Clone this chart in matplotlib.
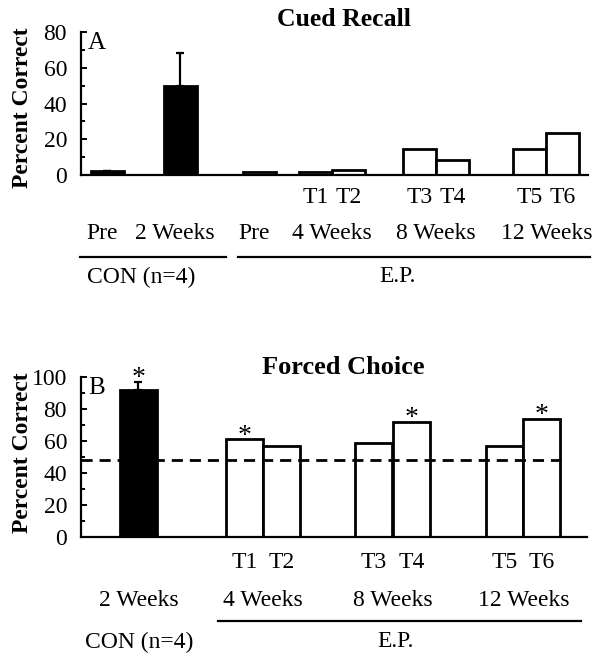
import matplotlib.pyplot as plt
from matplotlib.ticker import MultipleLocator

plt.rcParams['font.family'] = ['Liberation Serif', 'DejaVu Serif']

# Panel A - cued recall
a_values = [2, 50, 1.5, 1.5, 3, 14.5, 8.5, 14.5, 23.5]
a_errors = [0.5, 18, 0, 0, 0, 0, 0, 0, 0]
a_fill = ["black", "black", "white", "white", "white", "white", "white", "white", "white"]
a_pos = [0.8, 3.0, 5.4, 7.1, 8.1, 10.25, 11.25, 13.6, 14.6]
a_tlabels = ["", "", "", "T1", "T2", "T3", "T4", "T5", "T6"]
a_sessions = ["Pre", "2 Weeks", "Pre", "4 Weeks", "8 Weeks", "12 Weeks"]
a_session_pos = [0.65, 2.85, 5.25, 7.6, 10.75, 14.1]

# Panel B - forced choice
b_values = [92, 61, 57, 59, 72, 57, 74]
b_errors = [5, 0, 0, 0, 0, 0, 0]
b_fill = ["black", "white", "white", "white", "white", "white", "white"]
b_stars = [True, True, False, False, True, False, True]
b_pos = [1.55, 4.42, 5.42, 7.92, 8.93, 11.46, 12.46]
b_tlabels = ["", "T1", "T2", "T3", "T4", "T5", "T6"]
b_sessions = ["2 Weeks", "4 Weeks", "8 Weeks", "12 Weeks"]
b_session_pos = [1.55, 4.92, 8.42, 11.96]
chance = 48

fs = 17
bfs = 19

fig = plt.figure(figsize=(6.04, 6.66), dpi=100)
axA = fig.add_axes([81/604, 1-175/666, 507/604, 143/666])
axB = fig.add_axes([81/604, 1-537/666, 506/604, 160/666])


def style_axis(ax, top):
    for s in ["top", "right"]:
        ax.spines[s].set_visible(False)
    for s in ["left", "bottom"]:
        ax.spines[s].set_linewidth(1.6)
    ax.set_ylim(0, top)
    ax.yaxis.set_major_locator(MultipleLocator(20))
    ax.yaxis.set_minor_locator(MultipleLocator(10))
    ax.tick_params(axis="y", which="both", direction="in", width=1.4, pad=10, labelsize=fs)
    ax.tick_params(axis="y", which="major", length=4)
    ax.tick_params(axis="y", which="minor", length=3)
    ax.set_xticks([])


# ---- panel A
axA.bar(a_pos, a_values, width=1.0, color=a_fill, edgecolor="black", linewidth=2, zorder=2)
for x, v, e in zip(a_pos, a_values, a_errors):
    if e > 0:
        axA.errorbar([x], [v], yerr=[[0], [e]], fmt="none", ecolor="black",
                     elinewidth=1.6, capsize=3, capthick=1.6, zorder=1)
axA.set_xlim(0, 15.36)
style_axis(axA, 80)
axA.text(0.2, 80, "A", fontsize=fs + 1, va="top", ha="left")

trA = axA.get_xaxis_transform()
for x, t in zip(a_pos, a_tlabels):
    if t:
        axA.text(x, -0.154, t, transform=trA, ha="center", va="center", fontsize=fs)
for x, t in zip(a_session_pos, a_sessions):
    axA.text(x, -0.406, t, transform=trA, ha="center", va="center", fontsize=fs)
axA.plot([-0.03, 4.39], [-0.573, -0.573], transform=trA, color="black", lw=1.6, clip_on=False)
axA.plot([4.76, 15.42], [-0.573, -0.573], transform=trA, color="black", lw=1.6, clip_on=False)
axA.text(1.82, -0.713, "CON (n=4)", transform=trA, ha="center", va="center", fontsize=fs)
axA.text(9.58, -0.713, "E.P.", transform=trA, ha="center", va="center", fontsize=fs)

# ---- panel B
axB.bar(b_pos, b_values, width=1.0, color=b_fill, edgecolor="black", linewidth=2, zorder=2)
for x, v, e in zip(b_pos, b_values, b_errors):
    if e > 0:
        axB.errorbar([x], [v], yerr=[[0], [e]], fmt="none", ecolor="black",
                     elinewidth=1.6, capsize=3, capthick=1.6, zorder=1)
axB.set_xlim(0, 13.68)
style_axis(axB, 100)
axB.plot([0, 12.97], [chance, chance], color="black", lw=2, dashes=(4, 2.5), zorder=3)
axB.text(0.2, 100, "B", fontsize=fs + 1, va="top", ha="left")
for x, v, e, s in zip(b_pos, b_values, b_errors, b_stars):
    if s:
        axB.annotate("*", (x, v + e), xytext=(0, -2.5), textcoords="offset points",
                     ha="center", va="baseline", fontsize=fs + 3)

trB = axB.get_xaxis_transform()
for x, t in zip(b_pos, b_tlabels):
    if t:
        axB.text(x, -0.1625, t, transform=trB, ha="center", va="center", fontsize=fs)
for x, t in zip(b_session_pos, b_sessions):
    axB.text(x, -0.40, t, transform=trB, ha="center", va="center", fontsize=fs)
axB.plot([3.70, 13.51], [-0.525, -0.525], transform=trB, color="black", lw=1.6, clip_on=False)
axB.text(1.57, -0.656, "CON (n=4)", transform=trB, ha="center", va="center", fontsize=fs)
axB.text(8.5, -0.656, "E.P.", transform=trB, ha="center", va="center", fontsize=fs)

# titles and y labels
fig.text(344/604, 1-20/666, "Cued Recall", ha="center", va="center", fontsize=bfs - 0.5, fontweight="bold")
fig.text(343/604, 1-367/666, "Forced Choice", ha="center", va="center", fontsize=bfs, fontweight="bold")
fig.text(23/604, 1-108/666, "Percent Correct", rotation=90, ha="center", va="center",
         fontsize=17, fontweight="bold")
fig.text(23/604, 1-453/666, "Percent Correct", rotation=90, ha="center", va="center",
         fontsize=17, fontweight="bold")

fig.savefig("out.png", dpi=100)
